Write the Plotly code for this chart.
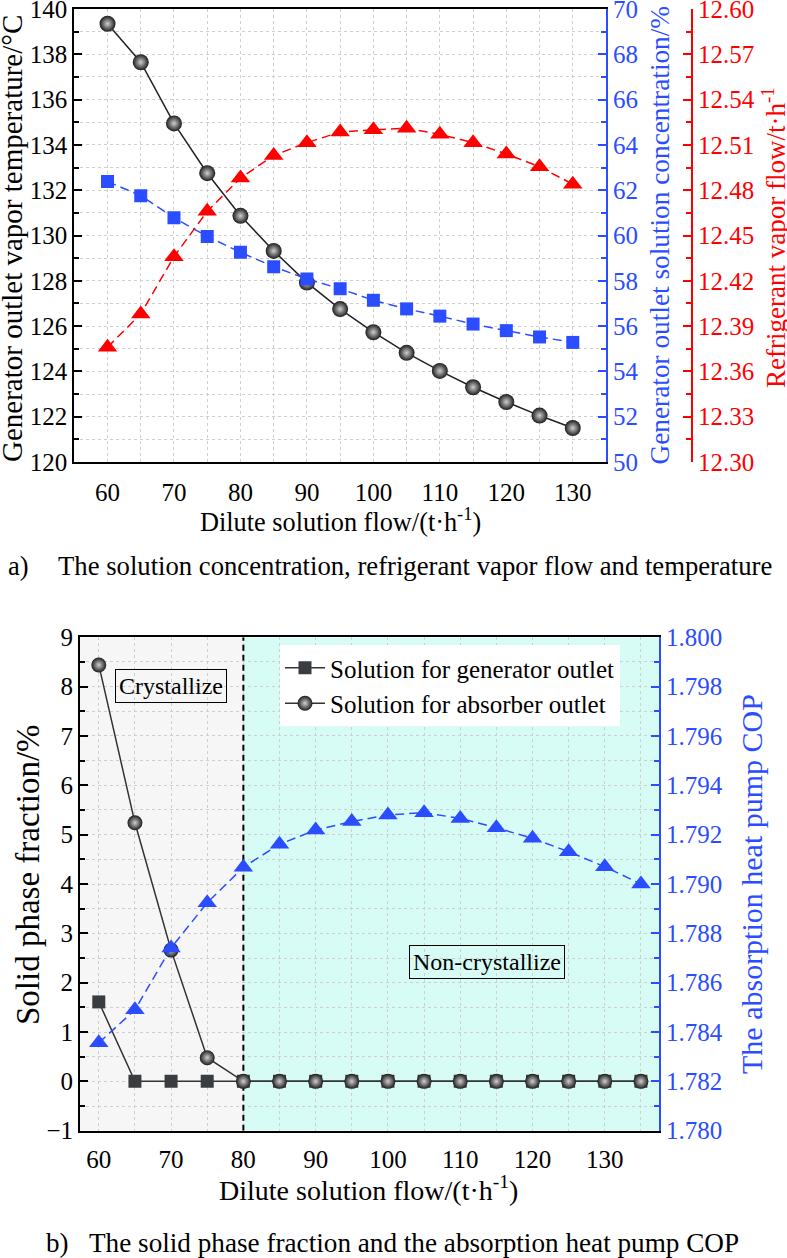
import plotly.graph_objects as go

# ---------------- data ----------------
flow_a = [60, 65, 70, 75, 80, 85, 90, 95, 100, 105, 110, 115, 120, 125, 130]
temp_a = [139.35, 137.65, 134.95, 132.75, 130.87, 129.32, 127.92, 126.75, 125.73,
          124.82, 124.02, 123.30, 122.65, 122.05, 121.50]
conc_a = [62.38, 61.76, 60.78, 59.96, 59.26, 58.62, 58.08, 57.65, 57.14,
          56.76, 56.44, 56.09, 55.80, 55.52, 55.28]
vapor_a = [12.376, 12.398, 12.436, 12.466, 12.488, 12.503, 12.5115, 12.5185, 12.520,
           12.521, 12.517, 12.5115, 12.504, 12.4955, 12.484]

flow_b = [60, 65, 70, 75, 80, 85, 90, 95, 100, 105, 110, 115, 120, 125, 130, 135]
solid_gen_b = [1.61, 0, 0, 0, 0, 0, 0, 0, 0, 0, 0, 0, 0, 0, 0, 0]
solid_abs_b = [8.44, 5.24, 2.66, 0.48, 0, 0, 0, 0, 0, 0, 0, 0, 0, 0, 0, 0]
cop_b = [1.78356, 1.78490, 1.78741, 1.78924, 1.79068, 1.79161, 1.79219, 1.79253,
         1.79280, 1.79289, 1.79266, 1.79228, 1.79185, 1.79131, 1.79070, 1.79000]

crystal_split = 80

# ---------------- style ----------------
W, H = 787, 1258
def px(x): return x / W
def py(y): return 1 - y / H

FONT = "Liberation Serif, Times New Roman, serif"
BLUE = "#2a4dff"
RED = "#ff0000"
GRID = "#cfcfcf"
TICK = 25

fig = go.Figure()

def sphere(size):
    return dict(symbol="circle", size=size, color="#1c1c1c",
                gradient=dict(type="radial", color="#cfcfcf"))

# top chart
fig.add_trace(go.Scatter(x=flow_a, y=temp_a, xaxis="x", yaxis="y", mode="lines+markers",
                         line=dict(color="#222222", width=1.5), marker=sphere(16), showlegend=False))
fig.add_trace(go.Scatter(x=flow_a, y=conc_a, xaxis="x", yaxis="y2", mode="lines+markers",
                         line=dict(color=BLUE, width=1.5, dash="9px,5px"),
                         marker=dict(symbol="square", size=13, color=BLUE), showlegend=False))
fig.add_trace(go.Scatter(x=flow_a, y=vapor_a, xaxis="x", yaxis="y3", mode="lines+markers",
                         line=dict(color=RED, width=1.5, dash="9px,5px"),
                         marker=dict(symbol="triangle-up", size=17, color=RED), showlegend=False))

# bottom chart
fig.add_trace(go.Scatter(x=flow_b, y=cop_b, xaxis="x2", yaxis="y5", mode="lines+markers",
                         line=dict(color=BLUE, width=1.5, dash="9px,5px"),
                         marker=dict(symbol="triangle-up", size=17, color=BLUE), showlegend=False))
fig.add_trace(go.Scatter(x=flow_b, y=solid_gen_b, xaxis="x2", yaxis="y4", mode="lines+markers",
                         name="Solution for generator outlet",
                         line=dict(color="#333333", width=1.5),
                         marker=dict(symbol="square", size=13, color="#3a3d3f")))
fig.add_trace(go.Scatter(x=flow_b, y=solid_abs_b, xaxis="x2", yaxis="y4", mode="lines+markers",
                         name="Solution for absorber outlet",
                         line=dict(color="#333333", width=1.5), marker=sphere(15)))

def xaxis_style(domain, anchor, rng, pad):
    # labelled axis: invisible outside ticks only push the labels down
    return dict(domain=domain, anchor=anchor, range=rng, tick0=60, dtick=10,
                ticks="outside", ticklen=pad, tickwidth=1, tickcolor="rgba(0,0,0,0)",
                showline=True, linewidth=2, linecolor="black", mirror=True,
                showgrid=True, gridcolor=GRID, griddash="dot", gridwidth=1,
                zeroline=False, automargin=False, ticklabeloverflow="allow",
                tickfont=dict(family=FONT, size=TICK, color="black"),
                minor=dict(tick0=55, dtick=5, ticks="", showgrid=True, gridcolor=GRID,
                           griddash="dot", gridwidth=1))

def xtick_overlay(base, anchor, rng):
    # tick marks pointing into the plot
    return dict(overlaying=base, anchor=anchor, range=rng, tick0=60, dtick=10,
                ticks="inside", ticklen=8, tickwidth=2, tickcolor="black",
                showticklabels=False, showline=False, showgrid=False, zeroline=False,
                automargin=False,
                minor=dict(tick0=55, dtick=5, ticks="inside", ticklen=5, tickwidth=1.5,
                           tickcolor="black", showgrid=False))

def yaxis_style(domain, anchor, rng, dtick, mdtick, color="black", grid=True, **kw):
    d = dict(domain=domain, anchor=anchor, range=rng, dtick=dtick, tick0=rng[0],
             ticks="inside", ticklen=8, tickwidth=2, tickcolor=color,
             showline=True, linewidth=2, linecolor=color,
             showgrid=grid, gridcolor=GRID, griddash="dot", gridwidth=1,
             zeroline=False, automargin=False, ticklabeloverflow="allow",
             tickfont=dict(family=FONT, size=TICK, color=color),
             minor=dict(tick0=rng[0], dtick=mdtick, ticks="inside", ticklen=5, tickwidth=1.5,
                        tickcolor=color, showgrid=grid, gridcolor=GRID,
                        griddash="dot", gridwidth=1))
    d.update(kw)
    return d

top_dom = [py(462), py(9)]
bot_dom = [py(1130.7), py(637.3)]
top_x = [55, 135]
bot_x = [57.4, 137.5]

fig.update_layout(
    width=W, height=H,
    margin=dict(l=0, r=0, t=0, b=0, autoexpand=False),
    paper_bgcolor="white", plot_bgcolor="white",
    font=dict(family=FONT, size=TICK, color="black"),
    xaxis=xaxis_style([px(74.3), px(606)], "y", top_x, 7),
    xaxis3=xtick_overlay("x", "y", top_x),
    yaxis=yaxis_style(top_dom, "x", [120, 140], 2, 1),
    yaxis2=yaxis_style(top_dom, "x", [50, 70], 2, 1, color=BLUE, grid=False,
                       overlaying="y", side="right"),
    yaxis3=yaxis_style(top_dom, "free", [12.30, 12.60], 0.03, 0.015, color=RED, grid=False,
                       overlaying="y", side="right", position=px(692), tickformat=".2f"),
    xaxis2=xaxis_style([px(80), px(659)], "y4", bot_x, 5),
    xaxis4=xtick_overlay("x2", "y4", bot_x),
    yaxis4=yaxis_style(bot_dom, "x2", [-1, 9], 1, 0.5),
    yaxis5=yaxis_style(bot_dom, "x2", [1.780, 1.800], 0.002, 0.001, color=BLUE, grid=False,
                       overlaying="y4", side="right", tickformat=".3f"),
    legend=dict(x=px(280), y=py(645), xanchor="left", yanchor="top",
                bgcolor="white", borderwidth=0, itemwidth=40,
                font=dict(family=FONT, size=TICK, color="black"),
                tracegroupgap=4),
    showlegend=True,
)

fig.update_layout(shapes=[
    dict(type="rect", xref="x2", yref="y4", x0=bot_x[0], x1=crystal_split, y0=-1, y1=9,
         fillcolor="#f6f6f6", line=dict(width=0), layer="below"),
    dict(type="rect", xref="x2", yref="y4", x0=crystal_split, x1=bot_x[1], y0=-1, y1=9,
         fillcolor="#d7fbf5", line=dict(width=0), layer="below"),
    dict(type="line", xref="x2", yref="y4", x0=crystal_split, x1=crystal_split, y0=-1, y1=9,
         line=dict(color="black", width=2, dash="6px,4px"), layer="between"),
])

def ann(text, x, y, size=28, color="black", angle=0, xanchor="center", **kw):
    d = dict(text=text, x=x, y=y, xref="paper", yref="paper", showarrow=False,
             textangle=angle, xanchor=xanchor, yanchor="middle",
             font=dict(family=FONT, size=size, color=color))
    d.update(kw)
    return d

annotations = [
    ann("Generator outlet vapor temperature/°C", px(12), py(239), size=29, angle=-90),
    ann("Generator outlet solution concentration/%", px(659), py(235.5), size=27.3,
        color=BLUE, angle=-90),
    ann("Refrigerant vapor flow/t·h<sup>-1</sup>", px(774), py(238), size=27,
        color=RED, angle=-90),
    ann("Dilute solution flow/(t·h<sup>-1</sup>)", px(340), py(520), size=26.3),
    ann("a)", px(18), py(566), size=26.5),
    ann("The solution concentration, refrigerant vapor flow and temperature",
        px(414.5), py(566), size=26.7),
    ann("Solid phase fraction/%", px(28), py(875), size=33, angle=-90),
    ann("The absorption heat pump COP", px(751), py(884), size=30, color=BLUE, angle=-90),
    ann("Dilute solution flow/(t·h<sup>-1</sup>)", px(368), py(1188), size=28),
    ann("b)", px(57), py(1243), size=27),
    ann("The solid phase fraction and the absorption heat pump COP",
        px(413.5), py(1243), size=27.2),
    dict(text="Crystallize", x=70, y=8.02, xref="x2", yref="y4", showarrow=False,
         bordercolor="black", borderwidth=1, borderpad=3,
         font=dict(family=FONT, size=24, color="black")),
    dict(text="Non-crystallize", x=113.7, y=2.42, xref="x2", yref="y4", showarrow=False,
         bordercolor="black", borderwidth=1, borderpad=3,
         font=dict(family=FONT, size=24, color="black")),
]
fig.update_layout(annotations=annotations)

fig.write_html("out.html", config={"displayModeBar": False},
               post_script="document.body.style.margin='0';document.body.style.overflow='hidden';")
